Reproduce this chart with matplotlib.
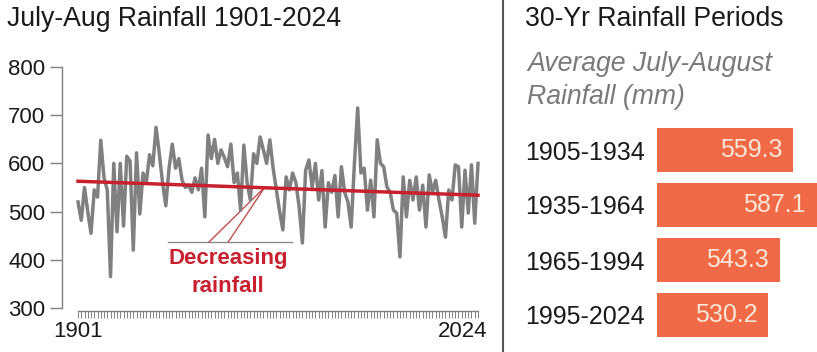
import matplotlib
matplotlib.use("Agg")
import matplotlib.pyplot as plt
from matplotlib.lines import Line2D
import numpy as np

plt.rcParams['font.family'] = ['Liberation Sans', 'DejaVu Sans']

# ---- data ----
start_year = 1901
rainfall = [520, 482, 550, 500, 455, 545, 530, 648, 570, 545,
            365, 600, 458, 600, 470, 615, 605, 420, 622, 495,
            580, 560, 618, 595, 675, 620, 560, 512, 590, 640,
            590, 610, 565, 550, 555, 540, 570, 545, 590, 489,
            659, 610, 650, 600, 628, 612, 593, 640, 560, 580,
            503, 638, 560, 524, 620, 600, 655, 628, 600, 649,
            590, 545, 500, 462, 572, 545, 580, 560, 510, 435,
            586, 607, 551, 600, 524, 585, 468, 560, 540, 575,
            489, 593, 540, 520, 468, 600, 715, 580, 590, 503,
            565, 489, 649, 600, 593, 551, 540, 503, 497, 406,
            572, 489, 565, 524, 572, 503, 555, 468, 576, 540,
            565, 524, 489, 447, 545, 524, 597, 593, 468, 586,
            497, 597, 476, 600]
years = list(range(start_year, start_year + len(rainfall)))
trend_years = [1901, 2024]
trend_values = [563, 534]
y_ticks = [300, 400, 500, 600, 700, 800]
x_labels = [1901, 2024]

periods = ["1905-1934", "1935-1964", "1965-1994", "1995-2024"]
period_avg = [559.3, 587.1, 543.3, 530.2]

W, H = 817, 352
fig = plt.figure(figsize=(W / 100, H / 100), dpi=100)
fig.patch.set_facecolor('white')

def fx(px):
    return px / W

def fy(py):
    return 1 - py / H

GRAY = '#808080'
RED = '#c8202e'
BAR = '#f06a48'

# ---- left chart ----
x0_px, x1_px = 62, 490
px_per_year = (478 - 78) / 123.0
xl = 1901 - (78 - x0_px) / px_per_year
xr = 1901 + (x1_px - 78) / px_per_year
ax = fig.add_axes([fx(x0_px), fy(308), fx(x1_px - x0_px), (308 - 67) / H])
ax.set_xlim(xl, xr)
ax.set_ylim(300, 800)
ax.set_facecolor('none')

ax.plot(years, rainfall, color=GRAY, lw=2.5, solid_joinstyle='round', zorder=2)
ax.plot(trend_years, trend_values, color=RED, lw=2.5, zorder=3)

for s in ['top', 'right']:
    ax.spines[s].set_visible(False)
ax.spines['left'].set_color(GRAY)
ax.spines['left'].set_linewidth(1.0)
ax.spines['left'].set_bounds(300, 800)
ax.spines['bottom'].set_color(GRAY)
ax.spines['bottom'].set_linewidth(1.0)
ax.spines['bottom'].set_bounds(1901, 2024)
ax.spines['bottom'].set_position(('outward', 2))

ax.set_yticks(y_ticks)
ax.set_yticklabels([str(v) for v in y_ticks], fontsize=16, color='#1a1a1a')
ax.tick_params(axis='y', direction='out', length=9, width=1.0, color=GRAY, pad=3)

ax.set_xticks(x_labels)
ax.set_xticklabels([])
ax.set_xticks(years, minor=True)
ax.tick_params(axis='x', which='both', direction='out', length=5, width=0.7, color=GRAY)

ax.text(1901, -0.055, "1901", transform=ax.get_xaxis_transform(), ha='center', va='top',
        fontsize=16, color='#1a1a1a')
ax.text(2024 + 3, -0.055, "2024", transform=ax.get_xaxis_transform(), ha='right', va='top',
        fontsize=16, color='#1a1a1a')

# annotation
ax.plot([1928.7, 1966.8], [437, 437], color='#8a8a8a', lw=1.0, zorder=1)
ax.plot([1941.3, 1958.5], [437, 551], color='#c05050', lw=1.0, zorder=1)
ax.plot([1947.2, 1958.5], [437, 551], color='#c05050', lw=1.0, zorder=1)
ax.text(1947.2, 402, "Decreasing", ha='center', va='center', fontsize=16,
        fontweight='bold', color=RED)
ax.text(1947.2, 345, "rainfall", ha='center', va='center', fontsize=16,
        fontweight='bold', color=RED)

# ---- titles ----
fig.text(fx(7), fy(6), "July-Aug Rainfall 1901-2024", ha='left', va='top',
         fontsize=19.2, color='#1a1a1a')
fig.text(fx(525), fy(6), "30-Yr Rainfall Periods", ha='left', va='top',
         fontsize=19.2, color='#1a1a1a')
fig.text(fx(527), fy(51), "Average July-August", ha='left', va='top',
         fontsize=19.2, style='italic', color='#7a7a7a')
fig.text(fx(527), fy(84), "Rainfall (mm)", ha='left', va='top',
         fontsize=19.2, style='italic', color='#7a7a7a')

# divider
fig.add_artist(Line2D([fx(503), fx(503)], [0, 1], color='#555555', lw=1.5))

# ---- right bars ----
bx = fig.add_axes([fx(657), fy(342.5), 1 - fx(657), 220 / H])
ypos = np.arange(len(periods))
bx.barh(ypos, period_avg, height=0.8, color=BAR, left=0)
bx.set_xlim(400, 587.1)
bx.set_ylim(3.5, -0.5)
bx.set_facecolor('none')
for s in bx.spines.values():
    s.set_visible(False)
bx.set_xticks([])
bx.set_yticks(ypos)
bx.set_yticklabels(periods, fontsize=18, color='#1a1a1a')
bx.tick_params(axis='y', length=0, pad=9)
for i, v in enumerate(period_avg):
    bx.annotate(f"{v:.1f}", xy=(v, i), xytext=(-8, 0), textcoords='offset points',
                ha='right', va='center', fontsize=18, color='#fde6d4')

fig.savefig("out.png", dpi=100, facecolor='white')
